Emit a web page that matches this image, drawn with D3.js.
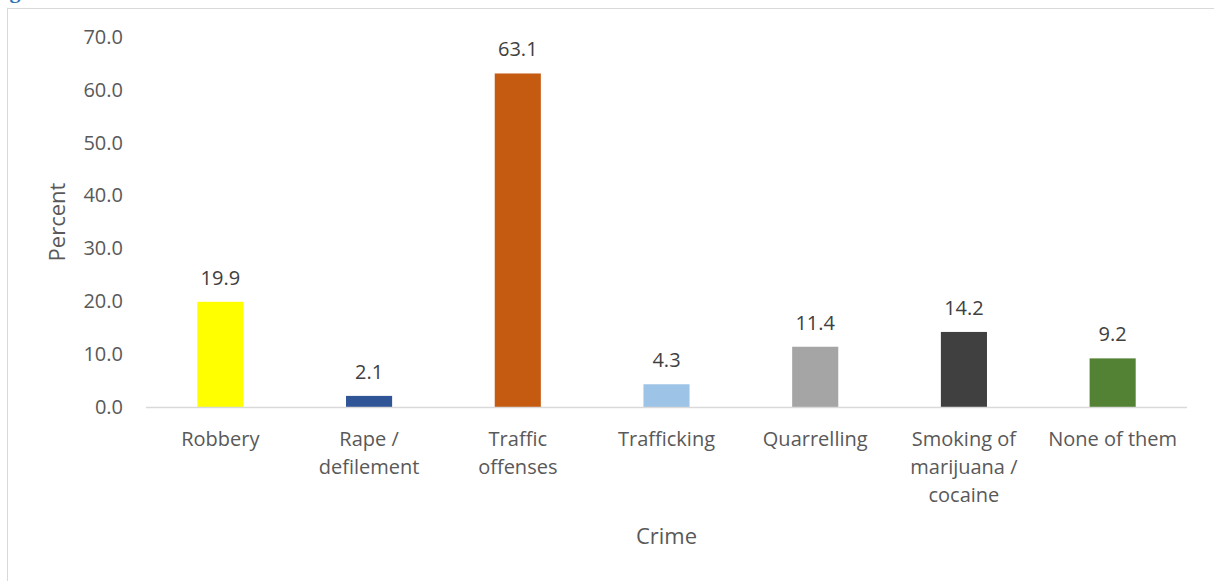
<!DOCTYPE html>
<html>
<head>
<meta charset="utf-8">
<script src="https://cdn.jsdelivr.net/npm/d3@7"></script>
<style>
  html, body { margin: 0; padding: 0; background: #fff; }
  svg { display: block; }
</style>
</head>
<body>
<div id="chart"></div>
<script>
// Share of respondents naming each crime
const categories = [
  ["Robbery"],
  ["Rape /", "defilement"],
  ["Traffic", "offenses"],
  ["Trafficking"],
  ["Quarrelling"],
  ["Smoking of", "marijuana /", "cocaine"],
  ["None of them"]
];
const values = [19.9, 2.1, 63.1, 4.3, 11.4, 14.2, 9.2];
const barColors = ["#FFFF00", "#2F5597", "#C55A11", "#9DC3E6", "#A5A5A5", "#404040", "#548235"];
const yTicks = [0, 10, 20, 30, 40, 50, 60, 70];

const W = 1214, H = 581;
const font = "'Open Sans', 'Noto Sans', sans-serif";
const textColor = "#595959";

const svg = d3.select("#chart").append("svg")
  .attr("width", W).attr("height", H);

// caption fragment above the chart frame
svg.append("text")
  .attr("x", -10).attr("y", -2)
  .attr("font-family", "'Liberation Serif', serif")
  .attr("font-weight", "bold")
  .attr("font-size", 22)
  .attr("fill", "#2E74B5")
  .text("Fig");

// chart frame
svg.append("rect")
  .attr("x", 7.5).attr("y", 8.5)
  .attr("width", W + 10).attr("height", H + 10)
  .attr("fill", "none")
  .attr("stroke", "#D9D9D9")
  .attr("stroke-width", 1);

const plot = { left: 146, right: 1187, top: 37, bottom: 407 };

const x = d3.scaleBand()
  .domain(categories.map((d, i) => i))
  .range([plot.left, plot.right])
  .paddingInner(0.69)
  .paddingOuter(0.345);

const y = d3.scaleLinear()
  .domain([0, 70])
  .range([plot.bottom, plot.top]);

// y axis tick labels
const yAxis = d3.axisLeft(y)
  .tickValues(yTicks)
  .tickFormat(d3.format(".1f"))
  .tickSize(0)
  .tickPadding(0);

const yg = svg.append("g")
  .attr("transform", `translate(${plot.left - 23},0)`)
  .call(yAxis);
yg.select(".domain").remove();
yg.selectAll("text")
  .attr("font-family", font)
  .attr("font-size", 20)
  .attr("fill", textColor);

// bars
svg.append("g").selectAll("rect")
  .data(values)
  .join("rect")
  .attr("x", (d, i) => x(i))
  .attr("y", d => y(d))
  .attr("width", x.bandwidth())
  .attr("height", d => y(0) - y(d))
  .attr("fill", (d, i) => barColors[i]);

// baseline
svg.append("line")
  .attr("x1", plot.left).attr("x2", plot.right)
  .attr("y1", y(0) + 0.5).attr("y2", y(0) + 0.5)
  .attr("stroke", "#D9D9D9")
  .attr("stroke-width", 1.5);

// value labels
svg.append("g").selectAll("text")
  .data(values)
  .join("text")
  .attr("x", (d, i) => x(i) + x.bandwidth() / 2)
  .attr("y", d => y(d) - 17)
  .attr("text-anchor", "middle")
  .attr("font-family", font)
  .attr("font-size", 20)
  .attr("fill", "#404040")
  .text(d => d.toFixed(1));

// category labels
const cat = svg.append("g").selectAll("text")
  .data(categories)
  .join("text")
  .attr("x", (d, i) => x(i) + x.bandwidth() / 2)
  .attr("y", 446)
  .attr("text-anchor", "middle")
  .attr("font-family", font)
  .attr("font-size", 20)
  .attr("fill", textColor);
cat.selectAll("tspan")
  .data(d => d)
  .join("tspan")
  .attr("x", function() { return d3.select(this.parentNode).attr("x"); })
  .attr("dy", (d, i) => i === 0 ? 0 : 28)
  .text(d => d);

// axis titles
svg.append("text")
  .attr("x", (plot.left + plot.right) / 2)
  .attr("y", 544)
  .attr("text-anchor", "middle")
  .attr("font-family", font)
  .attr("font-size", 22)
  .attr("fill", textColor)
  .text("Crime");

svg.append("text")
  .attr("transform", `translate(65,${(plot.top + plot.bottom) / 2}) rotate(-90)`)
  .attr("text-anchor", "middle")
  .attr("font-family", font)
  .attr("font-size", 22)
  .attr("fill", textColor)
  .text("Percent");
</script>
</body>
</html>
